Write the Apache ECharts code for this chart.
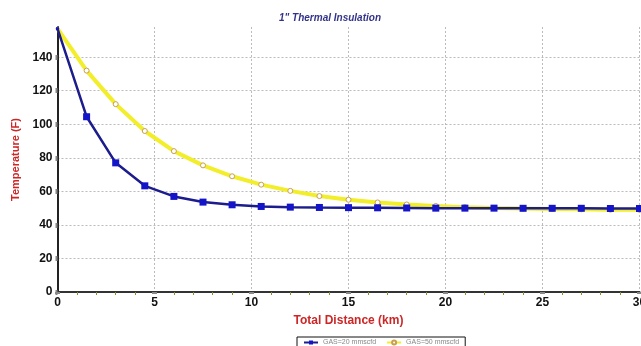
<!DOCTYPE html>
<html>
<head>
<meta charset="utf-8">
<script src="https://cdn.jsdelivr.net/npm/echarts@6/dist/echarts.min.js"></script>
<style>
  html, body { margin: 0; padding: 0; background: #fff; }
  #chart { width: 641px; height: 346px; }
</style>
</head>
<body>
<div id="chart"></div>
<script>
// distance along the line (km)
const distance = [0, 1.5, 3, 4.5, 6, 7.5, 9, 10.5, 12, 13.5, 15, 16.5, 18, 19.5, 21, 22.5, 24, 25.5, 27, 28.5, 30];
// temperature (F) per gas rate
const gas20 = [157, 104.5, 77, 63.3, 57, 53.6, 52, 51, 50.6, 50.4, 50.3, 50.2, 50.1, 50, 50, 50, 49.9, 49.9, 49.9, 49.8, 49.8];
const gas50 = [157, 132, 112, 96, 84, 75.5, 69, 64, 60.3, 57.2, 55, 53.4, 52.2, 51.3, 50.6, 50.1, 49.8, 49.5, 49.3, 49.1, 49];
const seriesNames = ['GAS=20 mmscfd', 'GAS=50 mmscfd'];

const chart = echarts.init(document.getElementById('chart'), null, { renderer: 'canvas' });

const pts = (ys) => distance.map((x, i) => ({
  value: [x, ys[i]],
  symbolSize: i === 0 ? 3 : undefined,
}));

chart.setOption({
  animation: false,
  backgroundColor: '#fff',
  textStyle: { fontFamily: '"Liberation Sans", Arial, sans-serif' },
  title: {
    text: '1" Thermal Insulation',
    left: 325,
    top: 8,
    textAlign: 'center',
    textStyle: { fontSize: 10, fontStyle: 'italic', fontWeight: 'bold', color: '#33338a' },
  },
  grid: { left: 57.5, top: 27, width: 582, height: 265, containLabel: false, outerBoundsMode: 'none' },
  legend: {
    data: seriesNames,
    left: 297,
    top: 337,
    padding: [2, 6, 6, 6],
    itemGap: 10,
    itemWidth: 14,
    itemHeight: 5,
    borderColor: '#111',
    borderWidth: 1,
    textStyle: { fontSize: 7, color: '#888' },
  },
  xAxis: {
    type: 'value',
    min: 0,
    max: 30,
    interval: 5,
    name: 'Total Distance (km)',
    nameLocation: 'middle',
    nameGap: 23,
    nameTextStyle: { color: '#cc2626', fontWeight: 'bold', fontSize: 12 },
    axisLine: { lineStyle: { color: '#333', width: 2 } },
    axisTick: { show: true, length: 2, lineStyle: { color: '#888', width: 5 } },
    minorTick: { show: true, splitNumber: 5, length: 3, lineStyle: { color: '#8a8a30', width: 1 } },
    axisLabel: { color: '#111', fontWeight: 'bold', fontSize: 12, margin: 5 },
    splitLine: { show: true, lineStyle: { color: '#bbb', type: [2, 2], width: 1 } },
  },
  yAxis: {
    type: 'value',
    min: 0,
    max: 158,
    interval: 20,
    name: 'Temperature (F)',
    nameLocation: 'middle',
    nameGap: 36,
    nameTextStyle: { color: '#cc2626', fontWeight: 'bold', fontSize: 11 },
    axisLine: { show: true, lineStyle: { color: '#222', width: 2 } },
    axisTick: { show: true, length: 2, lineStyle: { color: '#888', width: 5 } },
    axisLabel: { color: '#111', fontWeight: 'bold', fontSize: 12, margin: 5, showMaxLabel: false },
    splitLine: { show: true, showMaxLine: false, lineStyle: { color: '#bbb', type: [2, 2], width: 1 } },
  },
  series: [
    {
      name: seriesNames[1],
      type: 'line',
      data: pts(gas50),
      lineStyle: { color: '#f2ee2a', width: 4 },
      itemStyle: { color: '#fff', borderColor: '#c8a050', borderWidth: 1 },
      symbol: 'circle',
      symbolSize: 5,
      z: 2,
    },
    {
      name: seriesNames[0],
      type: 'line',
      data: pts(gas20),
      lineStyle: { color: '#1c1c8c', width: 2.5 },
      itemStyle: { color: '#1414c8' },
      symbol: 'rect',
      symbolSize: 7,
      z: 3,
    },
  ],
});
</script>
</body>
</html>
